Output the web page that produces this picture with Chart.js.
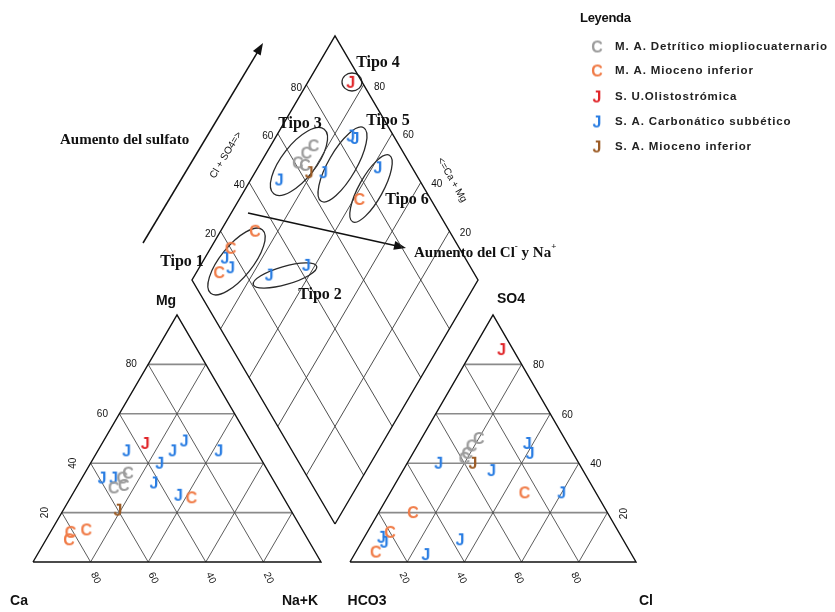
<!DOCTYPE html>
<html lang="es">
<head>
<meta charset="utf-8">
<title>Diagrama de Piper</title>
<script src="https://cdn.jsdelivr.net/npm/chart.js@4.4.1/dist/chart.umd.min.js"></script>
<style>
  html, body { margin: 0; padding: 0; background: #fff; overflow: hidden; }
  #piper { display: block; }
</style>
</head>
<body>
<canvas id="piper" width="835" height="612"></canvas>
<script>
// Grupos de muestras (leyenda)
const groupNames = [
    'M. A. Detrítico miopliocuaternario',
    'M. A. Mioceno inferior',
    'S. U.Olistostrómica',
    'S. A. Carbonático subbético',
    'S. A. Mioceno inferior'
];
const groupLetters = ['C', 'C', 'J', 'J', 'J'];
const groupColors = ['#9c9c9c', '#f07c48', '#e0262a', '#2a7de2', '#9c5c26'];

// Cationes (% meq): Mg y Na+K, el Ca es el resto
const mgValues = [
    [36, 34, 31, 30],
    [26, 13, 12, 9],
    [48],
    [49, 45, 45, 40, 45, 34, 34, 32, 27],
    [21]
];
const naKValues = [
    [15, 14, 16, 13],
    [42, 12, 7, 8],
    [15],
    [28, 26, 10, 24, 42, 7, 11, 26, 37],
    [19]
];

// Aniones (% meq): SO4 y Cl, el HCO3 es el resto
const so4Values = [
    [50, 47, 44, 42],
    [28, 20, 12, 4],
    [86],
    [48, 44, 40, 37, 28, 10, 8, 3, 9],
    [40]
];
const clValues = [
    [20, 19, 19, 19],
    [47, 12, 8, 7],
    [10],
    [38, 41, 11, 31, 60, 6, 8, 25, 34],
    [23]
];

const tickValues = [20, 40, 60, 80];

// Geometría del diagrama (unidades de la escala = px del lienzo)
const CAT = { a: [33, 562], b: [321, 562], c: [177, 315] };   // Ca, Na+K, Mg
const AN = { a: [350, 562], b: [636, 562], c: [493, 315] };   // HCO3, Cl, SO4
const DIA = { bottom: [335, 524], left: [192, 280], right: [478, 280], top: [335, 37] };

/**
 * Punto de un triángulo ternario.
 * @param {object} t - triángulo.
 * @param {number} right - % hacia el vértice derecho.
 * @param {number} up - % hacia el vértice superior.
 */
function tri(t, right, up) {
    return {
        x: t.a[0] + (t.b[0] - t.a[0]) * right / 100 + (t.c[0] - t.a[0]) * up / 100,
        y: t.a[1] + (t.b[1] - t.a[1]) * right / 100 + (t.c[1] - t.a[1]) * up / 100
    };
}

// Punto del rombo: Ca+Mg (%) y SO4+Cl (%)
function dia(caMg, so4cl) {
    const u = caMg / 100, v = so4cl / 100;
    return {
        x: DIA.bottom[0] + (DIA.left[0] - DIA.bottom[0]) * u + (DIA.right[0] - DIA.bottom[0]) * v,
        y: DIA.bottom[1] + (DIA.left[1] - DIA.bottom[1]) * u + (DIA.right[1] - DIA.bottom[1]) * v
    };
}

// Une segmentos en una sola serie separada por huecos
function joinSegments(segments) {
    const out = [];
    segments.forEach(seg => {
        seg.forEach(p => out.push(p));
        out.push({ x: NaN, y: NaN });
    });
    return out;
}

function triangleLines(t) {
    const horiz = [], diag = [];
    tickValues.forEach(k => {
        horiz.push([tri(t, 0, k), tri(t, 100 - k, k)]);
        diag.push([tri(t, k, 0), tri(t, k, 100 - k)]);
        diag.push([tri(t, k, 0), tri(t, 0, k)]);
    });
    const frame = [[tri(t, 0, 0), tri(t, 100, 0), tri(t, 0, 100), tri(t, 0, 0)]];
    return { horiz, diag, frame };
}

const catLines = triangleLines(CAT);
const anLines = triangleLines(AN);

const diaGrid = [];
tickValues.forEach(k => {
    diaGrid.push([dia(k, 0), dia(k, 100)]);
    diaGrid.push([dia(0, k), dia(100, k)]);
});
const diaFrame = [[dia(0, 0), dia(100, 0), dia(100, 100), dia(0, 100), dia(0, 0)]];

function letterMarker(letter, color) {
    const c = document.createElement('canvas');
    c.width = 14;
    c.height = 17;
    const g = c.getContext('2d');
    g.font = 'bold 16px "Liberation Sans", Arial, sans-serif';
    g.fillStyle = color;
    g.textAlign = 'center';
    g.textBaseline = 'middle';
    g.fillText(letter, 7, 9.5);
    return c;
}
const markers = groupColors.map((col, i) => letterMarker(groupLetters[i], col));

// Series de muestras: triángulo de cationes, de aniones y rombo
const sampleDatasets = groupNames.map((name, gi) => {
    const pts = [];
    mgValues[gi].forEach((mg, i) => pts.push(tri(CAT, naKValues[gi][i], mg)));
    so4Values[gi].forEach((so4, i) => pts.push(tri(AN, clValues[gi][i], so4)));
    naKValues[gi].forEach((na, i) => pts.push(dia(100 - na, so4Values[gi][i] + clValues[gi][i])));
    return {
        label: name,
        data: pts,
        pointStyle: markers[gi],
        pointRadius: 7,
        showLine: false,
        order: 0
    };
});

function lineSet(segments, color, width, order) {
    return {
        label: '',
        data: joinSegments(segments),
        showLine: true,
        spanGaps: false,
        borderColor: color,
        borderWidth: width,
        pointRadius: 0,
        order: order
    };
}

const lineDatasets = [
    lineSet(catLines.horiz.concat(anLines.horiz), '#8a8a8a', 1.6, 5),
    lineSet(catLines.diag.concat(anLines.diag), '#4a4a4a', 0.9, 4),
    lineSet(diaGrid, '#3a3a3a', 0.9, 4),
    lineSet(catLines.frame.concat(anLines.frame, diaFrame), '#111', 1.4, 3)
];

// Elipses de los tipos: centro, semiejes, giro
const typeEllipses = [
    { x: 236.5, y: 261.5, a: 41, b: 16, rot: -51 },
    { x: 285, y: 275.5, a: 33, b: 9, rot: -16 },
    { x: 299, y: 161.5, a: 41, b: 17, rot: -52 },
    { x: 352, y: 82, a: 10, b: 9, rot: 0 },
    { x: 342.5, y: 164.5, a: 42.5, b: 14, rot: -60 },
    { x: 371, y: 188.5, a: 38, b: 12, rot: -61 }
];
const typeLabels = [
    { text: 'Tipo 1', x: 182, y: 262 },
    { text: 'Tipo 2', x: 320, y: 295 },
    { text: 'Tipo 3', x: 300, y: 124 },
    { text: 'Tipo 4', x: 378, y: 63 },
    { text: 'Tipo 5', x: 388, y: 121 },
    { text: 'Tipo 6', x: 407, y: 200 }
];

const SANS = '"Liberation Sans", Arial, sans-serif';
const SERIF = '"Liberation Serif", "Times New Roman", serif';

function drawText(ctx, str, x, y, font, rot, align, color, spacing) {
    ctx.save();
    ctx.translate(x, y);
    if (rot) ctx.rotate(rot * Math.PI / 180);
    ctx.font = font;
    if (spacing) ctx.letterSpacing = spacing;
    ctx.fillStyle = color || '#111';
    ctx.textAlign = align || 'center';
    ctx.textBaseline = 'middle';
    ctx.fillText(str, 0, 0);
    ctx.restore();
}

function drawArrow(ctx, x1, y1, x2, y2) {
    const ang = Math.atan2(y2 - y1, x2 - x1);
    ctx.save();
    ctx.strokeStyle = '#111';
    ctx.fillStyle = '#111';
    ctx.lineWidth = 1.5;
    ctx.beginPath();
    ctx.moveTo(x1, y1);
    ctx.lineTo(x2 - 8 * Math.cos(ang), y2 - 8 * Math.sin(ang));
    ctx.stroke();
    ctx.translate(x2, y2);
    ctx.rotate(ang);
    ctx.beginPath();
    ctx.moveTo(0, 0);
    ctx.lineTo(-12, -4.5);
    ctx.lineTo(-12, 4.5);
    ctx.closePath();
    ctx.fill();
    ctx.restore();
}

const piperDecor = {
    id: 'piperDecor',
    beforeDatasetsDraw(chart) {
        const ctx = chart.ctx;
        const sx = chart.scales.x, sy = chart.scales.y;
        ctx.save();
        ctx.strokeStyle = '#2a2a2a';
        ctx.lineWidth = 1.3;
        typeEllipses.forEach(e => {
            ctx.beginPath();
            ctx.ellipse(sx.getPixelForValue(e.x), sy.getPixelForValue(e.y), e.a, e.b,
                e.rot * Math.PI / 180, 0, 2 * Math.PI);
            ctx.stroke();
        });
        ctx.restore();
        drawArrow(ctx, sx.getPixelForValue(143), sy.getPixelForValue(243),
            sx.getPixelForValue(263), sy.getPixelForValue(43));
        drawArrow(ctx, sx.getPixelForValue(248), sy.getPixelForValue(213),
            sx.getPixelForValue(406), sy.getPixelForValue(248));
    },
    afterDatasetsDraw(chart) {
        const ctx = chart.ctx;
        const sx = chart.scales.x, sy = chart.scales.y;
        const P = p => ({ x: sx.getPixelForValue(p.x), y: sy.getPixelForValue(p.y) });
        const tickFont = '10px ' + SANS;

        // etiquetas de escala de los triángulos
        tickValues.forEach(k => {
            let p = P(tri(CAT, 0, k));
            drawText(ctx, String(k), p.x - 17, p.y, tickFont, k < 50 ? -90 : 0);
            p = P(tri(CAT, k, 0));
            drawText(ctx, String(100 - k), p.x + 5, p.y + 16, tickFont, 65);
            p = P(tri(AN, 100 - k, k));
            drawText(ctx, String(k), p.x + 17, p.y + 1, tickFont, k < 30 ? -90 : 0);
            p = P(tri(AN, k, 0));
            drawText(ctx, String(k), p.x - 3, p.y + 16, tickFont, 65);
            p = P(dia(100, k));
            drawText(ctx, String(k), p.x - 10, p.y + 3, tickFont, 0);
            p = P(dia(k, 100));
            drawText(ctx, String(k), p.x + 16, p.y + 2, tickFont, 0);
        });

        // nombres de los vértices
        const axisFont = 'bold 14px ' + SANS;
        drawText(ctx, 'Mg', 166, 301, axisFont);
        drawText(ctx, 'SO4', 511, 299, axisFont);
        drawText(ctx, 'Ca', 19, 601, axisFont);
        drawText(ctx, 'Na+K', 300, 601, axisFont);
        drawText(ctx, 'HCO3', 367, 601, axisFont);
        drawText(ctx, 'Cl', 646, 601, axisFont);
        drawText(ctx, 'Cl + SO4=>', 226, 155, '10px ' + SANS, -59);
        drawText(ctx, '<=Ca + Mg', 452, 180, '10px ' + SANS, 60);

        // anotaciones
        const serif = 'bold 15px ' + SERIF;
        typeLabels.forEach(t => drawText(ctx, t.text, t.x, t.y, 'bold 16px ' + SERIF));
        drawText(ctx, 'Aumento del sulfato', 60, 140, serif, 0, 'left');
        ctx.save();
        ctx.font = serif;
        ctx.fillStyle = '#111';
        ctx.textBaseline = 'middle';
        let x = 414;
        const y = 253;
        [['Aumento del Cl', 0], ['-', -6], [' y Na', 0], ['+', -6]].forEach(([s, dy]) => {
            ctx.font = dy ? 'bold 9px ' + SERIF : serif;
            ctx.fillText(s, x, y + dy);
            x += ctx.measureText(s).width;
        });
        ctx.restore();

        // leyenda
        drawText(ctx, 'Leyenda', 580, 18, 'bold 13px ' + SANS, 0, 'left', '#111', '-0.3px');
        const rows = [47, 71, 97, 122, 147];
        groupNames.forEach((name, i) => {
            ctx.drawImage(markers[i], 597 - markers[i].width / 2, rows[i] - markers[i].height / 2);
            drawText(ctx, name, 615, rows[i], 'bold 11.5px ' + SANS, 0, 'left', '#222', '0.85px');
        });
    }
};

new Chart(document.getElementById('piper'), {
    type: 'scatter',
    data: { datasets: sampleDatasets.concat(lineDatasets) },
    options: {
        responsive: false,
        animation: false,
        devicePixelRatio: 1,
        layout: { padding: 0, autoPadding: false },
        scales: {
            x: { type: 'linear', min: 0, max: 835, display: false },
            y: { type: 'linear', min: 0, max: 612, reverse: true, display: false }
        },
        plugins: {
            legend: { display: false },
            tooltip: { enabled: false }
        }
    },
    plugins: [piperDecor]
});
</script>
</body>
</html>
